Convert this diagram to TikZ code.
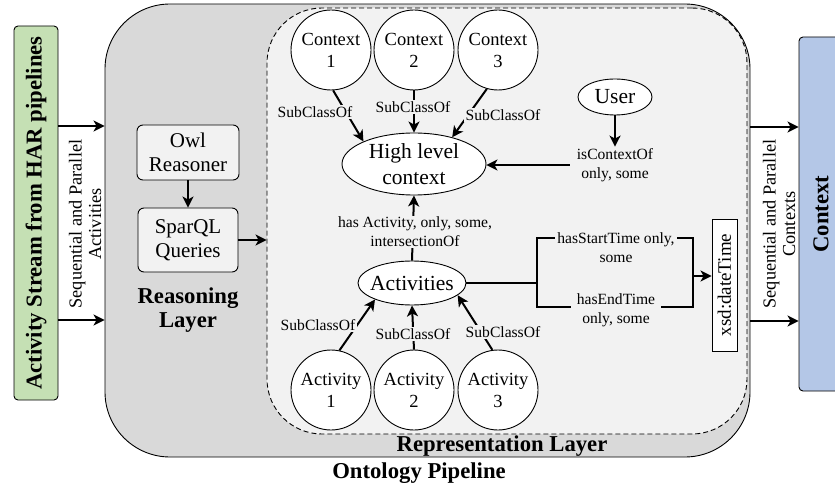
\documentclass[tikz,border=0pt]{standalone}
\usepackage{fontspec}
\setmainfont{Liberation Serif}
\usetikzlibrary{arrows.meta,shapes.geometric,calc}
\definecolor{layergray}{HTML}{D9D9D9}
\definecolor{panelgray}{HTML}{F2F2F2}
\definecolor{streamgreen}{HTML}{C5E0B4}
\definecolor{ctxblue}{HTML}{B4C7E7}
\tikzset{
  arr/.style={line width=2pt, -{Stealth[length=11pt,width=11pt,inset=3pt]}},
  link/.style={line width=2pt},
  cls/.style={circle, draw, fill=white, line width=0.9pt, minimum size=80pt,
    inner sep=0pt, align=center, font=\fontsize{18.5pt}{22pt}\selectfont},
  ell/.style={ellipse, draw, fill=white, line width=0.9pt, inner sep=0pt,
    align=center, font=\fontsize{21.5pt}{26pt}\selectfont},
  rbox/.style={draw, rounded corners=6pt, fill=panelgray, line width=0.9pt,
    align=center, inner sep=0pt, font=\fontsize{21pt}{24pt}\selectfont},
  elab/.style={fill=panelgray, inner xsep=2pt, inner ysep=1.5pt, align=center,
    font=\fontsize{15.6pt}{19pt}\selectfont},
  slab/.style={align=center, rotate=90, font=\fontsize{18.3pt}{19.5pt}\selectfont},
  title/.style={align=center, font=\fontsize{22.7pt}{23.5pt}\selectfont\bfseries},
  sidebox/.style={draw, rotate=90, rounded corners=4pt, line width=0.9pt,
    minimum height=44pt, title}
}
\begin{document}
\begin{tikzpicture}[x=1pt, y=-1pt]
\useasboundingbox (0,0) rectangle (835,489);
\clip (0,0) rectangle (835,489);

% layers
\node (onto) [draw, fill=layergray, rounded corners=65pt, line width=0.9pt,
  minimum width=645pt, minimum height=453pt] at (427.5,230.5) {};
\node (rep) [draw, dash pattern=on 5pt off 3pt, fill=panelgray, rounded corners=55pt,
  line width=0.9pt, minimum width=480pt, minimum height=426pt] at (507,221) {};
\node (replab) [title] at (502,446) {Representation Layer};
\node (ontolab) [title] at (419,473) {Ontology Pipeline};

% input and output streams
\node (har) [sidebox, fill=streamgreen, minimum width=374pt] at (36,213)
  {Activity Stream from HAR pipelines};
\node (ctxb) [sidebox, fill=ctxblue, minimum width=354pt] at (821,214) {Context};
\node (inlab) [slab] at (85,224) {Sequential and Parallel\\Activities};
\node (outlab) [slab] at (779,224) {Sequential and Parallel\\Contexts};
\draw[arr] (har.south |- 0,126) -- (onto.west |- 0,126);
\draw[arr] (har.south |- 0,320) -- (onto.west |- 0,320);
\draw[arr] (onto.east |- 0,127) -- (ctxb.north |- 0,127);
\draw[arr] (onto.east |- 0,321) -- (ctxb.north |- 0,321);

% reasoning layer
\node (owl) [rbox, minimum width=102pt, minimum height=55pt] at (188,152.5) {Owl\\Reasoner};
\node (spq) [rbox, minimum width=100pt, minimum height=64pt] at (188,240) {SparQL\\Queries};
\node (reaslab) [title] at (188,310) {Reasoning\\Layer};
\draw[arr] (owl.south) -- (spq.north);
\draw[arr] (spq.east) -- (spq.east -| rep.west);

% representation layer: classes
\node (ctx1) [cls] at (331,50) {Context\\1};
\node (ctx2) [cls] at (414,50) {Context\\2};
\node (ctx3) [cls] at (498,50) {Context\\3};
\node (act1) [cls] at (331,390) {Activity\\1};
\node (act2) [cls] at (414,390) {Activity\\2};
\node (act3) [cls] at (498,390) {Activity\\3};
\node (hlc) [ell, minimum width=144pt, minimum height=62pt] at (414,164) {High level\\context};
\node (user) [ell, minimum width=74pt, minimum height=36pt] at (615,97) {User};
\node (acts) [ell, inner xsep=-4pt, minimum width=108pt, minimum height=44pt] at (412,283) {Activities};
\node (xsd) [draw, fill=white, rotate=90, line width=0.9pt, inner sep=0pt,
  minimum width=132pt, minimum height=25pt, font=\fontsize{19pt}{22pt}\selectfont]
  at (724.5,285) {xsd:dateTime};

% subclass relations
\draw[arr] (ctx1.-87) -- (hlc.156);
\draw[arr] (ctx2.south) -- (hlc.north);
\draw[arr] (ctx3.-106) -- (hlc.35);
\draw[arr] (act1.78) -- (acts.204);
\draw[arr] (act2.north) -- (acts.south);
\draw[arr] (act3.98) -- (acts.-15);
\draw[arr] (acts.north) -- (hlc.south);

% user relation
\node (ictx) [elab, inner xsep=7pt] at (615,165) {isContextOf\\only, some};
\draw[arr] (user.south) -- (ictx.north);
\draw[arr] (ictx.west) -- (ictx.west -| hlc.east);

% time relations
\coordinate (jl) at (537,283);
\coordinate (jt) at (537,238);
\coordinate (jb) at (537,307);
\coordinate (kt) at (693,238);
\coordinate (kb) at (693,307);
\coordinate (km) at (693,276);
\draw[link] (acts.east) -- (jl);
\draw[link] (jt) -- (kt) -- (kb) -- (jb) -- cycle;
\draw[arr] (km) -- (km -| xsd.north);

% relation labels
\node (sc1) [elab] at (315,112) {SubClassOf};
\node (sc2) [elab] at (413,107) {SubClassOf};
\node (sc3) [elab] at (503,115) {SubClassOf};
\node (sl1) [elab] at (318,325) {SubClassOf};
\node (sl2) [elab] at (413,334) {SubClassOf};
\node (sl3) [elab] at (503,332) {SubClassOf};
\node (hasact) [elab] at (415,232) {has Activity, only, some,\\intersectionOf};
\node (hst) [elab] at (616,248) {hasStartTime only,\\some};
\node (het) [elab, inner xsep=6pt] at (616,310) {hasEndTime\\only, some};
\end{tikzpicture}
\end{document}
